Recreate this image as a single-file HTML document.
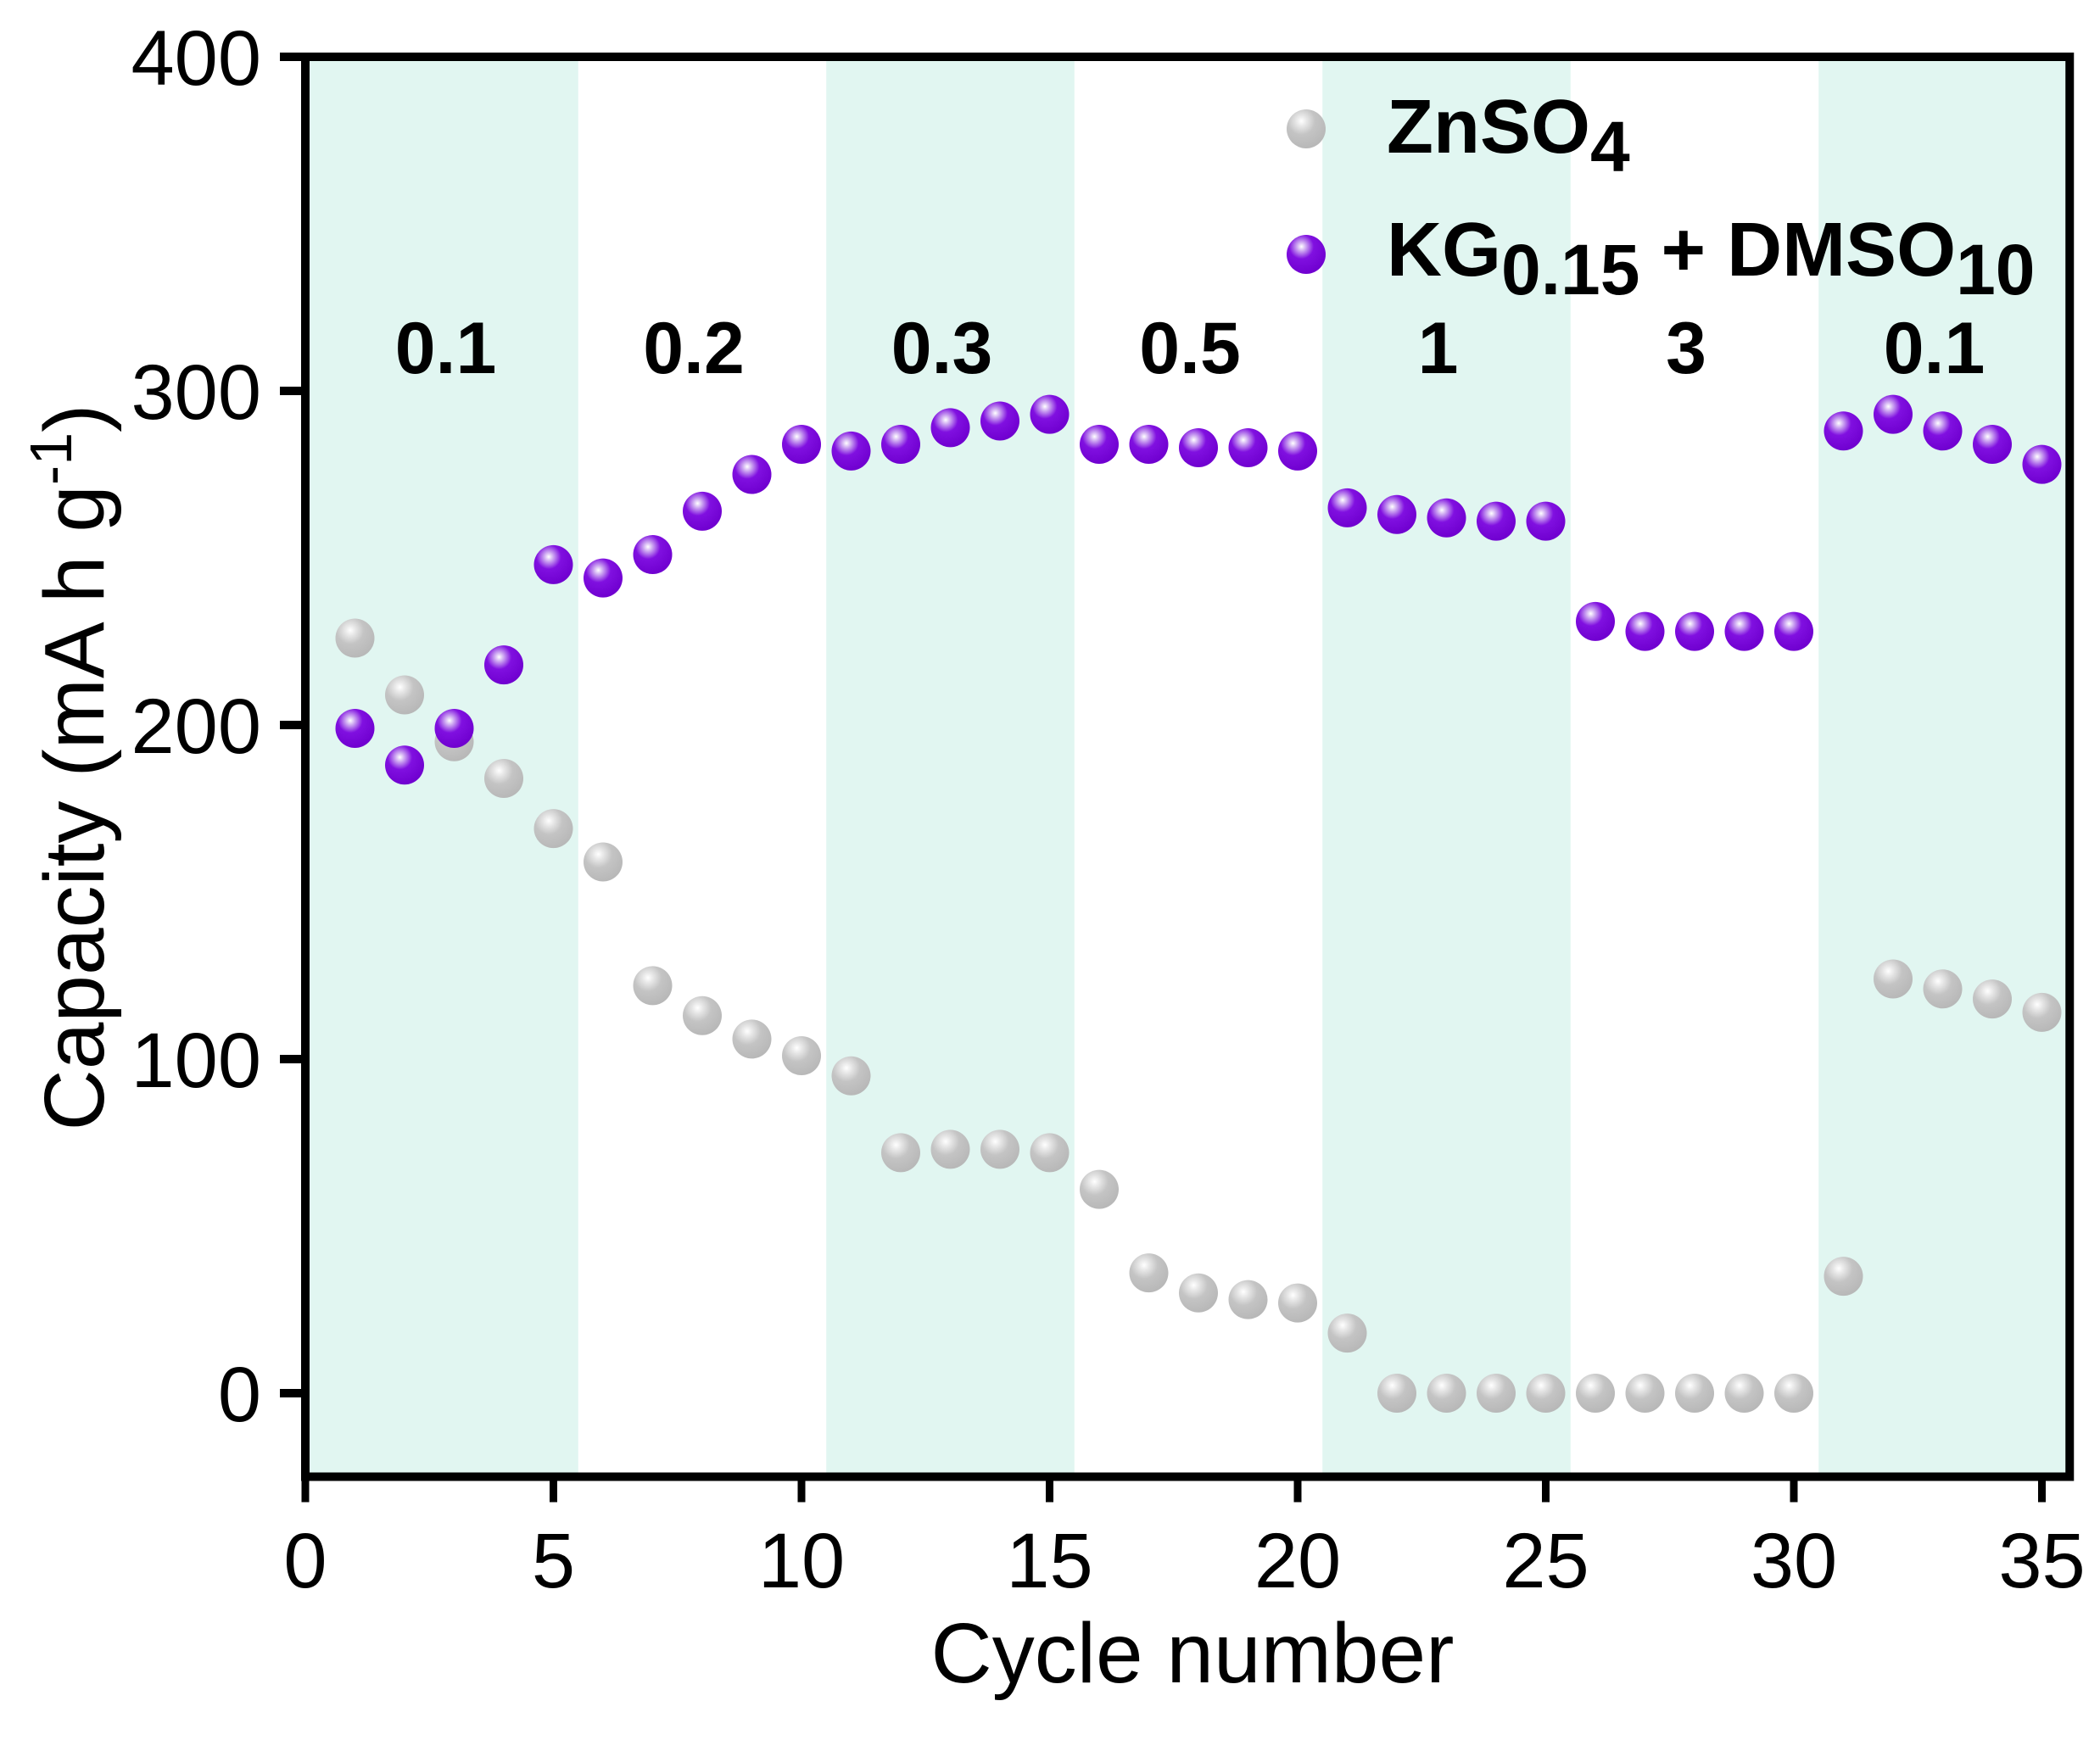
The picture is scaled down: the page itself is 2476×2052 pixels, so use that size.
<!DOCTYPE html>
<html><head><meta charset="utf-8"><style>
html,body{margin:0;padding:0;background:#fff}
svg{display:block;font-family:"Liberation Sans",Arial,sans-serif}
</style></head><body>
<svg id="chart" width="2476" height="2052" viewBox="0 0 2476 2052" xmlns="http://www.w3.org/2000/svg">
<defs>
<radialGradient id="gGray" cx="0.38" cy="0.3" r="0.7">
<stop offset="0" stop-color="#ffffff"/><stop offset="0.2" stop-color="#e6e6e6"/><stop offset="0.5" stop-color="#c4c4c4"/><stop offset="1" stop-color="#b8b8b8"/>
</radialGradient>
<radialGradient id="gPurple" cx="0.38" cy="0.3" r="0.7">
<stop offset="0" stop-color="#ffffff"/><stop offset="0.18" stop-color="#c9a0f0"/><stop offset="0.45" stop-color="#8010e0"/><stop offset="1" stop-color="#7000d0"/>
</radialGradient>
</defs>
<g id="bands"></g>
<g id="marks"></g>
<g id="axes"></g>
<g id="labels"></g>
<g font-weight="bold" font-size="90">
<circle cx="1540" cy="152" r="23" fill="url(#gGray)"/>
<text x="1635" y="180">ZnSO<tspan font-size="84" dy="22">4</tspan></text>
<circle cx="1540" cy="300" r="23" fill="url(#gPurple)"/>
<text x="1635" y="325">KG<tspan font-size="84" dy="22">0.15</tspan><tspan dy="-22"> + DMSO</tspan><tspan font-size="84" dy="22">10</tspan></text>
</g>
<text x="1406" y="1984" font-size="100" text-anchor="middle">Cycle number</text>
<text transform="translate(122,905) rotate(-90)" font-size="100" text-anchor="middle">Capacity (mA h g<tspan font-size="70" dy="-38">-1</tspan><tspan dy="38">)</tspan></text>
</svg>
<script>
const cycles=[];for(let i=1;i<=35;i++)cycles.push(i);
const znso4=[226,209,195,184,169,159,122,113,106,101,95,72,73,73,72,61,36,30,28,27,18,0,0,0,0,0,0,0,0,0,35,124,121,118,114];
const kgDmso=[199,188,199,218,248,244,251,264,275,284,282,284,289,291,293,284,284,283,283,282,265,263,262,261,261,231,228,228,228,228,288,293,288,284,278];
const xTicks=[0,5,10,15,20,25,30,35];
const yTicks=[0,100,200,300,400];
const bandStarts=[0,10.5,20.5,30.5];
const bandEnds=[5.5,15.5,25.5,35.6];
const rateLabels=["0.1","0.2","0.3","0.5","1","3","0.1"];
const rateCenters=[3,8,13,18,23,28,33];

const X0=360,XU=58.5,XMAX=35.56,Y400=67,YU=3.94,YMIN=-25;
const sx=v=>X0+v*XU;
const sy=v=>Y400+(400-v)*YU;
const NS="http://www.w3.org/2000/svg";
function mk(tag,parent,attrs){const e=document.createElementNS(NS,tag);for(const k in attrs)e.setAttribute(k,attrs[k]);parent.appendChild(e);return e;}
const pLeft=sx(0),pRight=sx(XMAX),pTop=sy(400),pBot=sy(YMIN);

const bandsG=document.getElementById('bands');
bandStarts.forEach((s,i)=>{
  const r=mk('rect',bandsG,{x:sx(s),y:pTop,width:Math.min(sx(bandEnds[i]),pRight)-sx(s),height:pBot-pTop,fill:'#e1f6f1'});
  
  
});

const marksG=document.getElementById('marks');
cycles.forEach((c,i)=>{
  const a=mk('circle',marksG,{cx:sx(c),cy:sy(znso4[i]),r:23,fill:'url(#gGray)'});
  
  
});
cycles.forEach((c,i)=>{
  const b=mk('circle',marksG,{cx:sx(c),cy:sy(kgDmso[i]),r:23,fill:'url(#gPurple)'});
  
  
});

const axesG=document.getElementById('axes');
const fr=mk('rect',axesG,{x:pLeft,y:pTop,width:pRight-pLeft,height:pBot-pTop,fill:'none',stroke:'#000','stroke-width':10});


xTicks.forEach(t=>{
  const l=mk('line',axesG,{x1:sx(t),x2:sx(t),y1:pBot,y2:pBot+30,stroke:'#000','stroke-width':9});
  
  
  const tx=mk('text',axesG,{x:sx(t),y:1872,'font-size':92,'text-anchor':'middle'});
  tx.textContent=t;
  
  
});
yTicks.forEach(t=>{
  const l=mk('line',axesG,{x1:pLeft-30,x2:pLeft,y1:sy(t),y2:sy(t),stroke:'#000','stroke-width':10});
  
  
  const tx=mk('text',axesG,{x:308,y:sy(t)+33,'font-size':92,'text-anchor':'end'});
  tx.textContent=t;
  
  
});

const labelsG=document.getElementById('labels');
rateLabels.forEach((s,i)=>{
  const t=mk('text',labelsG,{x:sx(rateCenters[i])-10,y:440,'font-size':86,'font-weight':'bold','text-anchor':'middle'});
  t.textContent=s;
  
  
});
</script>
</body></html>
